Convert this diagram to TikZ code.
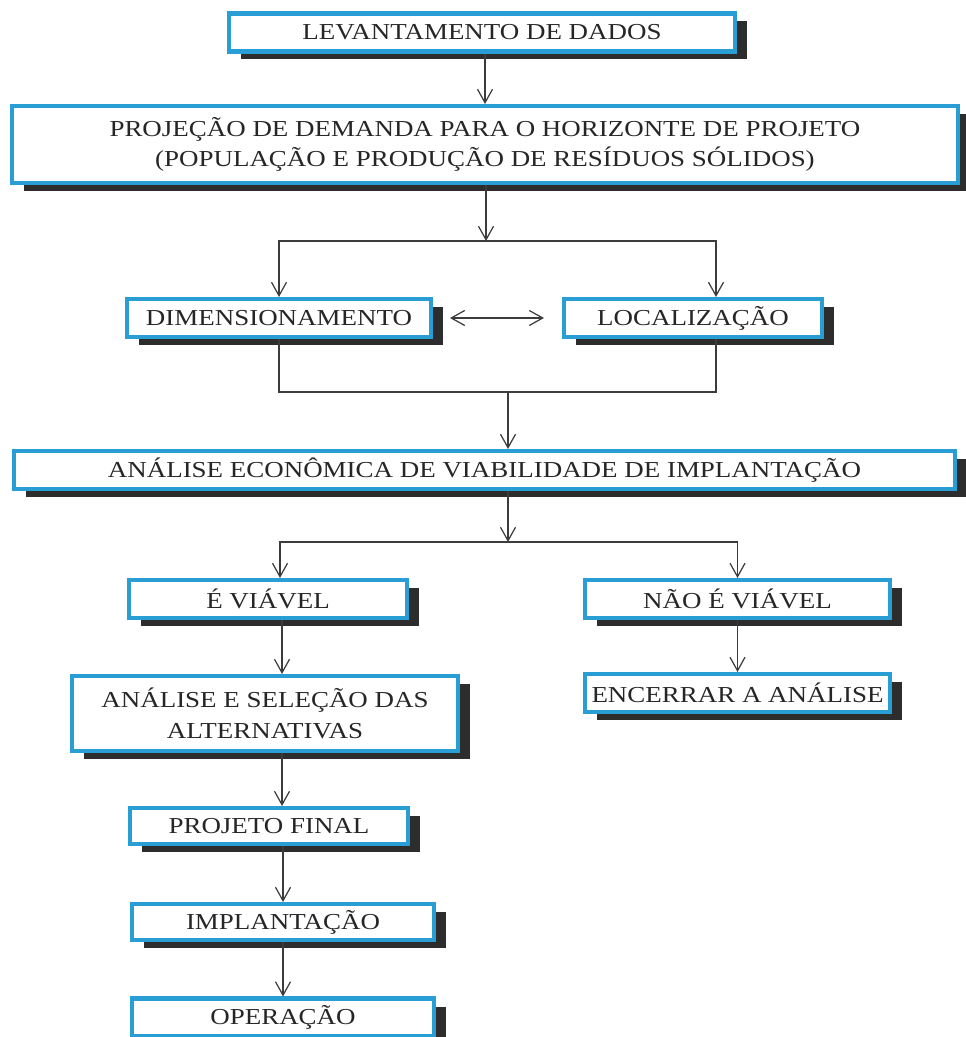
\documentclass[tikz,border=0pt]{standalone}
\usepackage{fontspec}
\setmainfont{Liberation Serif}[FakeStretch=1.18]
\usepackage{xcolor}
\usepackage{tikz}
\usetikzlibrary{positioning,
                calc,
                shadows,
                arrows.meta}
\definecolor{boxblue}{RGB}{41,158,212}
\definecolor{shadowgray}{RGB}{45,45,45}
\definecolor{linkgray}{RGB}{60,60,60}
\tikzset{stagebox/.style = {draw=boxblue,
                     line width=2.3pt,
                     fill=white,
                     inner sep=2pt,
                     align=center,
                     text=black!85,
                     minimum height=0.76cm,
                     font=\fontsize{13}{17.5}\selectfont,
                     drop shadow={shadow xshift=0.24cm,
                                  shadow yshift=-0.16cm,
                                  fill=shadowgray,
                                  opacity=1}
                    },
         link/.style = {draw=linkgray,
                     line width=0.7pt
         }
        }

\begin{document}
\begin{tikzpicture}[x=0.02cm,y=-0.02cm,
                    >={Straight Barb[length=0.27cm,width=0.3cm]}]
        \useasboundingbox (0,0) rectangle (966,1037);

        \node[stagebox,minimum width=10.12cm] (lev) at (482,32.5) {LEVANTAMENTO DE DADOS};
        \node[stagebox,minimum width=18.92cm,minimum height=1.54cm] (proj) at (485,144.5)
            {PROJEÇÃO DE DEMANDA PARA O HORIZONTE DE PROJETO\\(POPULAÇÃO E PRODUÇÃO DE RESÍDUOS SÓLIDOS)};
        \node[stagebox,minimum width=6.08cm] (dim) at (279,318) {DIMENSIONAMENTO};
        \node[stagebox,minimum width=5.16cm] (loc) at (693,318) {LOCALIZAÇÃO};
        \node[stagebox,minimum width=18.82cm] (eco) at (484.5,470)
            {ANÁLISE ECONÔMICA DE VIABILIDADE DE IMPLANTAÇÃO};
        \node[stagebox,minimum width=5.56cm] (viavel) at (268,599) {É VIÁVEL};
        \node[stagebox,minimum width=6.1cm] (naoviavel) at (737.5,599) {NÃO É VIÁVEL};
        \node[stagebox,minimum width=6.1cm] (encerrar) at (737.5,693) {ENCERRAR A ANÁLISE};
        \node[stagebox,minimum width=7.72cm,minimum height=1.5cm] (selecao) at (265,713.5)
            {ANÁLISE E SELEÇÃO DAS\\ALTERNATIVAS};
        \node[stagebox,minimum width=5.56cm,minimum height=0.72cm] (final) at (269,826) {PROJETO FINAL};
        \node[stagebox,minimum width=6.04cm,minimum height=0.72cm] (implant) at (283,922) {IMPLANTAÇÃO};
        \node[stagebox,minimum width=6.04cm] (operacao) at (283,1017.5) {OPERAÇÃO};

        \coordinate (splitA) at (486,241);
        \coordinate (mergeA) at (508,392);
        \coordinate (splitB) at (508,542);
        \coordinate (locport) at (716,0);
        \coordinate (colA) at (280,0);
        \coordinate (colB) at (282,0);

        \path[link,->] (proj.north |- lev.south) -- (proj.north);
        \path[link,->] (proj.south -| splitA) -- (splitA);
        \path[link,->] (splitA) -| (dim.north);
        \path[link,->] (splitA) -| (loc.north -| locport);
        \path[link,<->,shorten <=0.34cm,shorten >=0.36cm] (dim.east) -- (loc.west);

        \path[link] (dim.south) |- (mergeA) -| (loc.south -| locport);
        \path[link,->] (mergeA) -- (eco.north -| mergeA);

        \path[link,->] (eco.south -| splitB) -- (splitB);
        \path[link,->] (splitB) -| (viavel.north -| colA);
        \path[link,->] (splitB) -| (naoviavel.north);
        \path[link,->] (naoviavel) -- (encerrar);

        \path[link,->] (viavel.south -| colB) -- (selecao.north -| colB);
        \path[link,->] (selecao.south -| colB) -- (final.north -| colB);
        \path[link,->] (final.south -| implant) -- (implant.north);
        \path[link,->] (implant) -- (operacao);
\end{tikzpicture}
\end{document}
